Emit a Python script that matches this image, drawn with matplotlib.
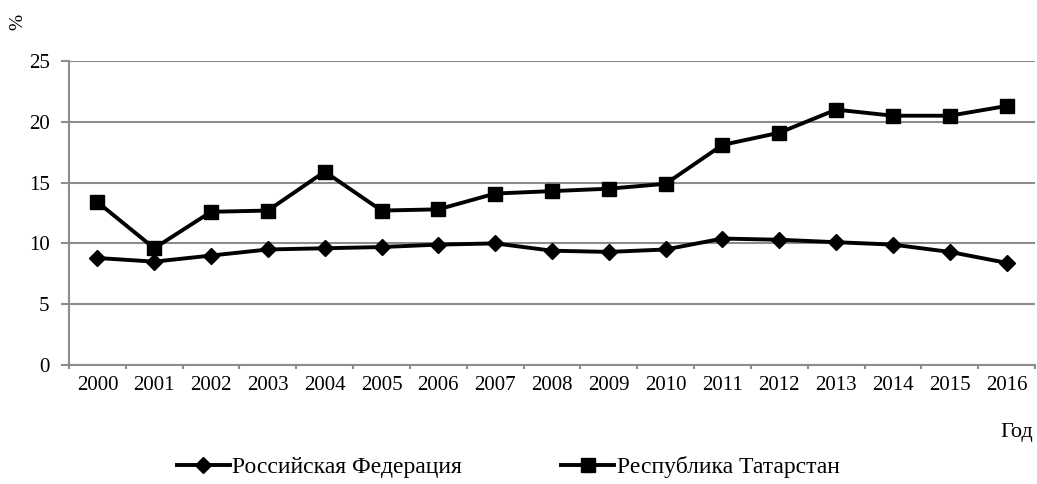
import matplotlib.pyplot as plt
from matplotlib.ticker import FixedLocator

plt.rcParams['font.family'] = ['Liberation Serif', 'DejaVu Serif']

# Data
years = ['2000', '2001', '2002', '2003', '2004', '2005', '2006', '2007', '2008',
         '2009', '2010', '2011', '2012', '2013', '2014', '2015', '2016']
rf = [8.8, 8.5, 9.0, 9.5, 9.6, 9.7, 9.9, 10.0, 9.4, 9.3, 9.5, 10.4, 10.3, 10.1, 9.9, 9.3, 8.4]
rt = [13.4, 9.6, 12.6, 12.7, 15.9, 12.7, 12.8, 14.1, 14.3, 14.5, 14.9, 18.1, 19.1, 21.0, 20.5, 20.5, 21.3]
yticks = [0, 5, 10, 15, 20, 25]

fig = plt.figure(figsize=(10.37, 4.84), dpi=100)
ax = fig.add_axes([69 / 1037, 1 - 365 / 484, 966 / 1037, 304 / 484])

x = range(len(years))
ax.plot(x, rf, color='black', lw=2.8, marker='D', markersize=8.5, label='Российская Федерация')
ax.plot(x, rt, color='black', lw=2.8, marker='s', markersize=9.5, label='Республика Татарстан')

ax.set_xlim(-0.5, len(years) - 0.5)
ax.set_ylim(0, 25)
ax.set_yticks(yticks)
ax.set_xticks(list(x))
ax.set_xticklabels(years)
# small tick marks between categories
ax.xaxis.set_minor_locator(FixedLocator([i - 0.5 for i in range(len(years) + 1)]))
ax.yaxis.grid(True, color='#8c8c8c', lw=1.5)
ax.set_axisbelow(True)
for s in ['top', 'right']:
    ax.spines[s].set_visible(False)
for s in ['left', 'bottom']:
    ax.spines[s].set_color('#8c8c8c')
    ax.spines[s].set_linewidth(1.5)
ax.tick_params(axis='y', length=6, width=1.5, color='#8c8c8c', labelsize=15, pad=8)
ax.tick_params(axis='x', which='major', length=0, labelsize=15, pad=8)
ax.tick_params(axis='x', which='minor', length=3, width=1.5, color='#8c8c8c')

fig.text(18 / 1037, 1 - 22 / 484, '%', rotation=90, fontsize=14, ha='center', va='center')
fig.text(1017 / 1037, 1 - 433 / 484, 'Год', fontsize=16, ha='center', va='center')

fig.legend(loc='center', bbox_to_anchor=(508 / 1037, 1 - 467 / 484), ncol=2, frameon=False,
           fontsize=17, handlelength=2.25, handletextpad=0.1, columnspacing=4.2)

fig.savefig('out.png', dpi=100)
